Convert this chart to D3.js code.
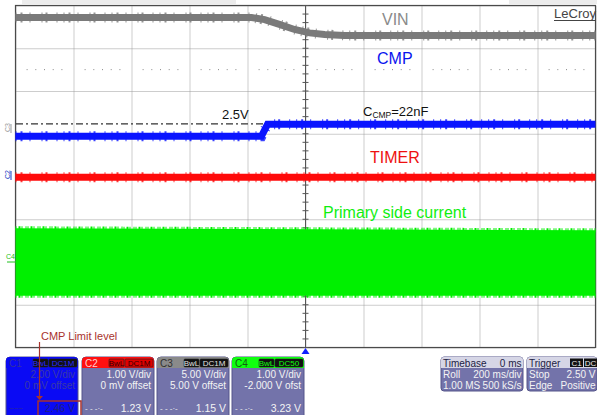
<!DOCTYPE html>
<html>
<head>
<meta charset="utf-8">
<script src="https://cdn.jsdelivr.net/npm/d3@7/dist/d3.min.js"></script>
<style>
  body { margin: 0; background: #fff; }
  svg { display: block; font-family: Arial, "Liberation Sans", sans-serif; }
</style>
</head>
<body>
<svg id="scope" width="597" height="415"></svg>
<script>
// ---- data (time in ms, levels in screen divisions from centre) ----
var vinTime = [-1000, -186, -141, -90, -38, 14, 66, 134, 1000];
var vinDiv  = [3.72, 3.72, 3.67, 3.56, 3.44, 3.36, 3.32, 3.30, 3.30];

var cmpTime = [-1000, -152, -131, 1000];
var cmpDiv  = [0.94, 0.94, 1.22, 1.22];

var timerTime = [-1000, 1000];
var timerDiv  = [-0.02, -0.02];

var currentTime = [-1000, 1000];
var currentHi   = [-1.21, -1.26];
var currentLo   = [-2.79, -2.79];

var refLevel = 1.23;   // 2.5V dash-dot marker

var chNames    = ["C1", "C2", "C3", "C4"];
var chCoupling = ["DC1M", "DC1M", "DC1M", "DC50"];
var chScale    = ["2.00 V/div", "1.00 V/div", "5.00 V/div", "1.00 V/div"];
var chOffset   = ["0 mV offset", "0 mV offset", "5.00 V offset", "-2.000 V ofst"];
var chReadout  = ["2.46 V", "1.23 V", "1.15 V", "3.23 V"];

var timebaseRows = [["Roll", "200 ms/div"], ["1.00 MS", "500 kS/s"]];
var triggerRows  = [["Stop", "2.50 V"], ["Edge", "Positive"]];

var xTicks = d3.range(-1000, 1001, 200);
var yTicks = d3.range(-4, 5, 1);

// ---- setup ----
var svg = d3.select("#scope");
var x = d3.scaleLinear().domain([-1000, 1000]).range([15.5, 595.5]);
var y = d3.scaleLinear().domain([-4, 4]).range([347.5, 5.5]);
var line = d3.line().x(function(d){ return x(d[0]); }).y(function(d){ return y(d[1]); });
function pts(t, v){ return t.map(function(d, i){ return [d, v[i]]; }); }

// light strips at the very top
svg.append("rect").attr("x", 22).attr("y", 0).attr("width", 214).attr("height", 4).attr("fill", "#ececec");
svg.append("rect").attr("x", 509).attr("y", 0).attr("width", 88).attr("height", 4).attr("fill", "#ececec");

// grid
svg.append("g").attr("transform", "translate(0,347.5)")
  .call(d3.axisBottom(x).tickValues(xTicks).tickSize(-342).tickFormat(""));
svg.append("g").attr("transform", "translate(15.5,0)")
  .call(d3.axisLeft(y).tickValues(yTicks).tickSize(-580).tickFormat(""));
svg.selectAll(".domain").remove();
svg.selectAll(".tick line").attr("stroke", "#9a9a9a").attr("stroke-dasharray", "1,1");

// dotted row half a division under the top grid line
var dotRow = [];
xTicks.slice(0, -1).forEach(function(t){
  [0.2, 0.35, 0.5, 0.65, 0.8].forEach(function(f){ dotRow.push(t + f * 200); });
});
svg.append("g").selectAll("rect").data(dotRow).join("rect")
  .attr("x", function(d){ return x(d) - 0.5; }).attr("y", y(2.5) - 0.5)
  .attr("width", 1).attr("height", 1).attr("fill", "#888");

// frame
svg.append("rect").attr("x", 15.5).attr("y", 5.5).attr("width", 580).attr("height", 342)
  .attr("fill", "none").attr("stroke", "#4a4a4a").attr("stroke-width", 1.2);

// centre line with minor ticks
svg.append("line").attr("x1", x(0)).attr("x2", x(0)).attr("y1", 5.5).attr("y2", 347.5)
  .attr("stroke", "#555").attr("stroke-width", 1);
svg.append("g").selectAll("line").data(d3.range(-4, 4.01, 0.2)).join("line")
  .attr("x1", x(0) - 3).attr("x2", x(0) + 3)
  .attr("y1", function(d){ return y(d); }).attr("y2", function(d){ return y(d); })
  .attr("stroke", "#555");

// 2.5V reference level
svg.append("line").attr("x1", 16).attr("x2", 595).attr("y1", y(refLevel)).attr("y2", y(refLevel))
  .attr("stroke", "#333").attr("stroke-width", 1.2).attr("stroke-dasharray", "7,3,2,3");

// primary side current band
var area = d3.area().x(function(d){ return x(d[0]); })
  .y0(function(d){ return y(d[2]); }).y1(function(d){ return y(d[1]); });
var band = currentTime.map(function(t, i){ return [t, currentHi[i], currentLo[i]]; });
svg.append("path").datum(band).attr("d", area).attr("fill", "#00f000");
[currentHi, currentLo].forEach(function(edge){
  svg.append("path").datum(pts(currentTime, edge)).attr("d", line)
    .attr("fill", "none").attr("stroke", "#00f000").attr("stroke-width", 4)
    .attr("stroke-dasharray", "1,2,2,1,1,3,1,1");
});

// noisy traces
function trace(t, v, color){
  svg.append("path").datum(pts(t, v)).attr("d", line)
    .attr("fill", "none").attr("stroke", color).attr("stroke-width", 7);
  svg.append("path").datum(pts(t, v)).attr("d", line)
    .attr("fill", "none").attr("stroke", color).attr("stroke-width", 10)
    .attr("stroke-dasharray", "1,4,2,7,1,11,1,3,2,9,1,6").attr("opacity", 0.8);
}
trace(timerTime, timerDiv, "#ff0a0a");
trace(cmpTime, cmpDiv, "#0a14ff");
trace(vinTime, vinDiv, "#7a7a7a");

// channel markers on the left edge
svg.append("text").attr("transform", "translate(10,132) rotate(-90)")
  .attr("font-size", 7).attr("fill", "#999").text("C3");
svg.append("line").attr("x1", 11).attr("x2", 11).attr("y1", 124).attr("y2", 133).attr("stroke", "#999");
svg.append("text").attr("transform", "translate(10,179) rotate(-90)")
  .attr("font-size", 7).attr("fill", "#1a3ac0").text("C2");
svg.append("line").attr("x1", 11).attr("x2", 11).attr("y1", 171).attr("y2", 180).attr("stroke", "#1a3ac0");
svg.append("text").attr("x", 6).attr("y", 259).attr("font-size", 7).attr("fill", "#20c020").text("C4");
svg.append("line").attr("x1", 7).attr("x2", 16).attr("y1", y(-2)).attr("y2", y(-2)).attr("stroke", "#20c020");

// trigger marker
svg.append("path").attr("d", "M" + x(0) + ",348 l-4,6 h8 z").attr("fill", "#1020ff");

// annotations
svg.append("text").attr("x", 382).attr("y", 25).attr("font-size", 16).attr("fill", "#8a8a8a").text("VIN");
svg.append("text").attr("x", 377).attr("y", 64).attr("font-size", 16).attr("fill", "#0a14ee").text("CMP");
svg.append("text").attr("x", 370).attr("y", 163).attr("font-size", 16).attr("fill", "#ee1010").text("TIMER");
svg.append("text").attr("x", 323).attr("y", 218).attr("font-size", 16).attr("fill", "#10ee10").text("Primary side current");
svg.append("text").attr("x", 222).attr("y", 119).attr("font-size", 13).attr("fill", "#111").text("2.5V");
var cc = svg.append("text").attr("x", 363).attr("y", 116).attr("font-size", 13).attr("fill", "#111");
cc.append("tspan").text("C");
cc.append("tspan").attr("font-size", 8.5).attr("dy", 2).text("CMP");
cc.append("tspan").attr("dy", -2).text("=22nF");

svg.append("text").attr("x", 554).attr("y", 18).attr("font-size", 12).attr("fill", "#444")
  .attr("textLength", 42).attr("lengthAdjust", "spacingAndGlyphs").text("LeCroy");
svg.append("line").attr("x1", 554).attr("x2", 596).attr("y1", 20.5).attr("y2", 20.5).attr("stroke", "#444");

// ---- channel panels ----
var boxX = [6, 82, 157, 232];
var bodyFill = ["#0a0af4", "#7373aa", "#7373aa", "#7373aa"];
var headFill = ["#0a0af4", "#ff1010", "#8a8a8a", "#10ff10"];
var headText = ["#3030a0", "#ffd0d0", "#303030", "#106010"];
var badgeFill = ["#101010", "#e00000", "#101010", "#101010"];
var badgeText = ["#2a2aff", "#300000", "#e0e0e0", "#10ff10"];
var valText = ["#3a3aa8", "#f4f4f4", "#f4f4f4", "#f4f4f4"];

chNames.forEach(function(name, i){
  var bx = boxX[i];
  var g = svg.append("g").attr("transform", "translate(" + bx + ",357)");
  g.append("rect").attr("width", 72).attr("height", 64).attr("rx", 4)
    .attr("fill", bodyFill[i]).attr("stroke", "#55558a");
  g.append("path").attr("d", "M0,11 V4 Q0,0 4,0 H68 Q72,0 72,4 V11 Z").attr("fill", headFill[i]);
  g.append("text").attr("x", 3).attr("y", 9.5).attr("font-size", 10).attr("fill", headText[i]).text(name);
  g.append("rect").attr("x", 27).attr("y", 2).attr("width", 15).attr("height", 8).attr("rx", 1)
    .attr("fill", badgeFill[i]).attr("stroke", "#222").attr("stroke-width", 0.6);
  g.append("rect").attr("x", 43).attr("y", 2).attr("width", 28).attr("height", 8).attr("rx", 1)
    .attr("fill", badgeFill[i]).attr("stroke", "#222").attr("stroke-width", 0.6);
  g.append("text").attr("x", 34.5).attr("y", 9).attr("font-size", 8).attr("text-anchor", "middle")
    .attr("fill", badgeText[i]).text("BwL");
  g.append("text").attr("x", 57).attr("y", 9).attr("font-size", 8).attr("text-anchor", "middle")
    .attr("fill", badgeText[i]).text(chCoupling[i]);
  g.append("text").attr("x", 69).attr("y", 21).attr("font-size", 10).attr("text-anchor", "end")
    .attr("fill", valText[i]).text(chScale[i]);
  g.append("text").attr("x", 69).attr("y", 32).attr("font-size", 10).attr("text-anchor", "end")
    .attr("fill", valText[i]).text(chOffset[i]);
  g.append("text").attr("x", 69).attr("y", 55).attr("font-size", 10.5).attr("text-anchor", "end")
    .attr("fill", i === 0 ? "#202080" : "#f4f4f4").text(chReadout[i]);
  g.append("text").attr("x", 3).attr("y", 54).attr("font-size", 8)
    .attr("fill", i === 0 ? "#2a2a90" : "#f4f4f4").text(i === 0 ? "~~~" : "- - -·-");
});

// timebase and trigger panels
function infoBox(bx, w, title, right, rows, badges){
  var g = svg.append("g").attr("transform", "translate(" + bx + ",357)");
  g.append("rect").attr("width", w).attr("height", 34).attr("rx", 3)
    .attr("fill", "#7373aa").attr("stroke", "#55558a");
  g.append("path").attr("d", "M0,11 V3 Q0,0 3,0 H" + (w - 3) + " Q" + w + ",0 " + w + ",3 V11 Z").attr("fill", "#d6d6e6");
  g.append("text").attr("x", 2).attr("y", 9.5).attr("font-size", 10).attr("fill", "#222244").text(title);
  if (right) g.append("text").attr("x", w - 1.5).attr("y", 9.5).attr("font-size", 10)
    .attr("text-anchor", "end").attr("fill", "#222244").text(right);
  (badges || []).forEach(function(b){
    g.append("rect").attr("x", b[1]).attr("y", 1.5).attr("width", b[2]).attr("height", 8.5).attr("fill", "#111");
    g.append("text").attr("x", b[1] + b[2] / 2).attr("y", 9).attr("font-size", 8)
      .attr("text-anchor", "middle").attr("fill", "#eee").text(b[0]);
  });
  rows.forEach(function(r, j){
    g.append("text").attr("x", 2).attr("y", 21 + j * 11).attr("font-size", 10).attr("fill", "#f4f4f4").text(r[0]);
    g.append("text").attr("x", w - 1.5).attr("y", 21 + j * 11).attr("font-size", 10)
      .attr("text-anchor", "end").attr("fill", "#f4f4f4").text(r[1]);
  });
}
infoBox(441, 82, "Timebase", "0 ms", timebaseRows);
infoBox(527, 70, "Trigger", null, triggerRows, [["C1", 43, 13], ["DC", 57, 13]]);

// CMP limit annotation
var red = "#a8322c";
svg.append("text").attr("x", 41).attr("y", 340).attr("font-size", 11).attr("fill", red).text("CMP Limit level");
svg.append("line").attr("x1", 39.5).attr("x2", 39.5).attr("y1", 342).attr("y2", 398).attr("stroke", red).attr("stroke-width", 1.2);
svg.append("path").attr("d", "M36,396 h7 l-3.5,4 z").attr("fill", red);
svg.append("rect").attr("x", 38).attr("y", 401).attr("width", 43).attr("height", 16)
  .attr("fill", "none").attr("stroke", red).attr("stroke-width", 1.5);
</script>
</body>
</html>
